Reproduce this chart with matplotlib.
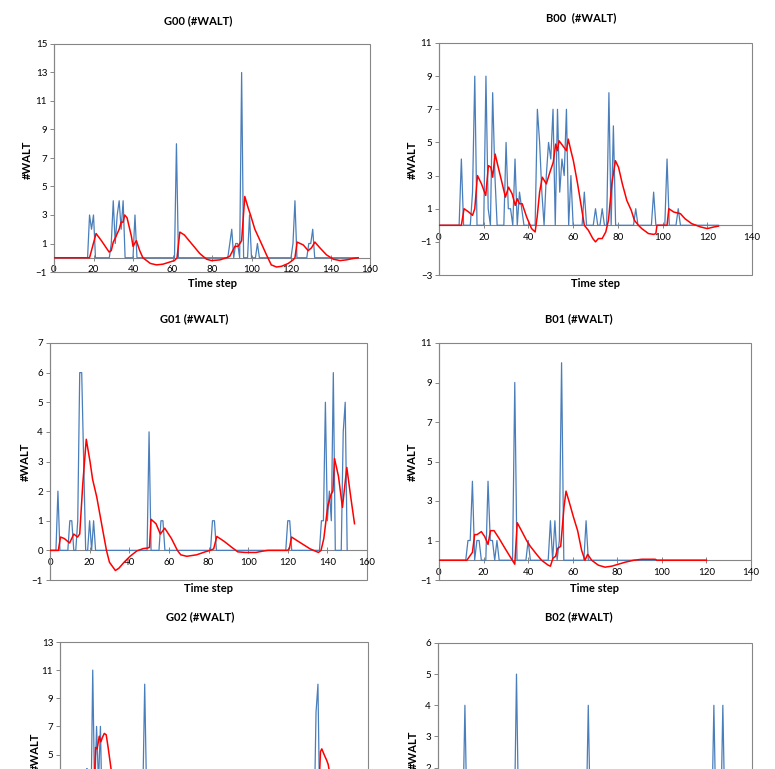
import matplotlib.pyplot as plt
import numpy as np
from matplotlib.patches import Rectangle

plt.rcParams['font.family'] = ['Lato', 'DejaVu Sans']

BLUE = '#4A7EBB'
RED = '#FF0000'
GRAY = '#868686'
W, H = 775, 769

# ---------- G00 ----------
g00_len = 155
g00_spike_t = [18, 19, 20, 29, 30, 31, 32, 33, 34, 35, 41, 62, 89, 90, 92, 93, 95, 99, 103, 121, 122, 129, 130, 131]
g00_spike_v = [3, 2, 3, 1, 4, 1, 3, 4, 2, 4, 3, 8, 1, 2, 1, 1, 13, 3, 1, 1, 4, 1, 1, 2]
g00_red_t = [0, 18, 21.3, 24, 27.9, 29, 30, 31.4, 33, 34, 35, 35.8, 37, 39.2, 40, 41.7, 43.4, 45, 48.8, 51.9,
             55.2, 58.6, 61, 62.3, 63.7, 66, 69.6, 73.8, 77.2, 79.7, 84, 87.3, 89, 91.6, 93.2, 95, 96.6, 98.3,
             99.5, 101.7, 105, 107.6, 110, 112.7, 115.2, 118.6, 121.1, 122, 123.1, 126.2, 128.7, 130.4, 132.1,
             134.6, 138, 141.4, 144.8, 148, 151.5, 154]
g00_red_v = [0, 0, 1.7, 1.2, 0.4, 0.5, 1.1, 1.5, 2.0, 2.5, 2.5, 3.0, 2.8, 1.5, 0.8, 1.2, 0.5, 0, -0.4, -0.5,
             -0.45, -0.3, -0.2, 0, 1.8, 1.6, 1.0, 0.3, -0.1, -0.2, -0.15, 0, 0.1, 0.8, 0.8, 1.2, 4.3, 3.5,
             3.0, 2.0, 1.0, 0.2, -0.5, -0.65, -0.6, -0.4, -0.15, 0, 1.1, 0.9, 0.5, 0.7, 1.1,
             0.7, 0.2, -0.1, -0.2, -0.15, -0.05, 0]

# ---------- B00 ----------
b00_len = 126
b00_spike_t = [10, 15, 16, 21, 22, 24, 25, 30, 31, 32, 34, 36, 37, 44, 45, 46, 48, 49, 50, 51, 53, 54, 55, 56,
               57, 59, 65, 70, 73, 76, 78, 88, 96, 102, 107]
b00_spike_v = [4, 2, 9, 9, 1, 8, 3, 5, 1, 1, 4, 2, 1, 7, 5, 2, 3, 5, 4, 7, 7, 2, 4, 3,
               7, 3, 2, 1, 1, 8, 6, 1, 2, 4, 1]
b00_red_t = [0, 10, 11.2, 13.3, 15, 16, 17.2, 19, 20.9, 22.1, 23.2, 24, 25.1, 26.5, 28.3, 29.7, 31.1, 32.7,
             34.1, 35, 36, 37.2, 39.2, 41.4, 43, 43.9, 45, 46.2, 48, 49.6, 51.1, 52.2, 52.9, 53.7, 55.9, 57,
             57.8, 59, 60.1, 62, 63.8, 65, 66.8, 68.8, 70, 71.3, 73, 74.6, 75.8, 77.3, 78.9, 80.3, 82, 84, 86,
             87.4, 89.2, 90.7, 93.7, 96, 97, 97.5, 102, 102.8, 105, 108, 110, 113, 117, 120, 123, 125]
b00_red_v = [0, 0, 1.0, 0.8, 0.6, 1.0, 3.0, 2.5, 1.8, 3.6, 3.5, 2.9, 4.3, 3.5, 2.5, 1.7, 2.3, 1.9,
             1.2, 1.6, 1.3, 1.3, 0.5, -0.2, -0.4, 0.5, 2.0, 2.9, 2.5, 3.2, 3.8, 4.9, 4.5, 5.1, 4.7, 4.5,
             5.2, 4.5, 3.9, 2.5, 1.0, 0, -0.3, -0.8, -1.0, -0.8, -0.8, -0.4, 0.3, 2.5, 3.9, 3.5, 2.5, 1.5, 0.9,
             0.3, 0, -0.2, -0.5, -0.55, -0.5, 0, 0, 1.0, 0.8, 0.7, 0.4, 0.1, -0.1, -0.2, -0.1, -0.05]

# ---------- G01 ----------
g01_len = 151
g01_spike_t = [4, 10, 11, 14, 15, 16, 17, 20, 22, 50, 56, 57, 82, 83, 120, 121, 137, 138, 139, 140, 141, 142,
               143, 148, 149]
g01_spike_v = [2, 1, 1, 1, 6, 6, 3, 1, 1, 4, 1, 1, 1, 1, 1, 1, 1, 1, 5, 1, 2, 1,
               6, 4, 5]
g01_red_t = [0, 4.2, 5.3, 7.2, 9.9, 12, 13.9, 15, 16.5, 18.3, 20.2, 21.5, 23.6, 26.3, 28.5, 30, 33, 34.8,
             37.4, 40.4, 43.8, 47, 49.3, 50.2, 51, 53.5, 55.7, 57.9, 61.3, 64.3, 66, 69, 74, 78.3, 80.8, 82.6,
             84.2, 88, 91.8, 94.8, 98.5, 104, 107, 110, 119.8, 120.8, 121.9, 125.4, 131.3, 135.5, 136.8,
             138.2, 140.2, 141.9, 142.8, 143.6, 145.6, 147.6, 149.8, 151.8, 153.7]
g01_red_v = [0, 0, 0.45, 0.4, 0.25, 0.55, 0.45, 0.55, 2.2, 3.75, 3.0, 2.4, 1.8, 0.8, 0, -0.4, -0.68, -0.6,
             -0.4, -0.2, -0.02, 0.06, 0.08, 0.1, 1.05, 0.9, 0.55, 0.75, 0.4, 0, -0.15, -0.2, -0.15, -0.05, 0, 0.05,
             0.47, 0.3, 0.1, -0.05, -0.07, -0.07, -0.03, 0, 0, 0.05, 0.45, 0.3, 0.05, -0.07, 0,
             0.4, 1.5, 1.9, 2.0, 3.1, 2.5, 1.45, 2.8, 1.8, 0.9]

# ---------- B01 ----------
b01_len = 121
b01_spike_t = [13, 14, 15, 17, 18, 22, 23, 24, 26, 34, 40, 50, 52, 54, 55, 66]
b01_spike_v = [1, 1, 4, 1, 1, 4, 1, 1, 1, 9, 1, 2, 2, 1, 10, 2]
b01_red_t = [0, 12.5, 15, 16, 17.1, 19, 20.5, 22, 23.1, 24.7, 27, 29.1, 31.8, 34, 35.1, 37, 39.3, 41, 43.8,
             46, 49, 50, 51.1, 52.3, 53.2, 54.6, 56.1, 57, 58.3, 60.3, 62.2, 64, 65.5, 66.7, 68.5, 71.5, 74.5,
             77.5, 80.5, 83.5, 87.3, 91, 97, 97.8, 120]
b01_red_v = [0, 0, 0.4, 1.3, 1.3, 1.45, 1.2, 0.8, 1.5, 1.5, 1.1, 0.7, 0.2, -0.2, 1.9, 1.5, 1.0, 0.7, 0.3,
             0, -0.25, -0.3, 0.1, 0.2, 0.6, 0.7, 2.7, 3.5, 3.0, 2.2, 1.5, 0.5, 0, 0.3, 0, -0.25, -0.35,
             -0.3, -0.2, -0.1, 0, 0.05, 0.05, 0, 0]

# ---------- G02 (lower part cut off) ----------
g02_len = 155
g02_spike_t = [14, 15, 17, 18, 19, 20, 21, 43, 44, 45, 133, 134]
g02_spike_v = [4, 1, 11, 2, 7, 3, 7, 2, 10, 2, 8, 10]
g02_red_t = [0, 16, 17.5, 18.5, 19.3, 20.4, 21.2, 22, 23, 24, 25, 26.5, 28, 32, 40, 133, 134.5, 135.3, 136,
             137.5, 138.5, 139.3, 141, 145, 150]
g02_red_v = [0, 0, 2.0, 5.5, 5.4, 6.3, 5.9, 6.2, 6.5, 6.4, 5.5, 4.0, 3.0, 1.5, 0.5, 0, 2.5, 5.2, 5.4,
             4.9, 4.6, 4.3, 3.0, 1.5, 0.5]

# ---------- B02 (lower part cut off) ----------
b02_len = 135
b02_spike_t = [12, 35, 67, 123, 127]
b02_spike_v = [4, 5, 4, 4, 4]


def spikes(n, t, v):
    y = np.zeros(n)
    y[t] = v
    return np.arange(n), y


def panel(box, xmax, ylim, ystep, title, title_xy, ylab_xy, xlab_y, blue, red=None, ytick_from=None):
    l, t, r, b = box
    fig = plt.gcf()
    ax = fig.add_axes([l / W, 1 - b / H, (r - l) / W, (b - t) / H])
    x, y = blue
    ax.plot(x, y, color=BLUE, lw=0.9, zorder=3)
    if red is not None:
        ax.plot(red[0], red[1], color=RED, lw=1.1, zorder=4)
    ax.set_xlim(0, xmax)
    ax.set_ylim(*ylim)
    ax.set_xticks(np.arange(0, xmax + 1, 20))
    start = ylim[0] if ytick_from is None else ytick_from
    ax.set_yticks(np.arange(start, ylim[1] + 0.1, ystep))
    ax.spines['bottom'].set_position(('data', 0))
    ax.spines['bottom'].set_color(GRAY)
    ax.spines['left'].set_color(GRAY)
    ax.spines['top'].set_visible(False)
    ax.spines['right'].set_visible(False)
    ax.add_patch(Rectangle((0, 0), 1, 1, transform=ax.transAxes, fill=False,
                           ec=GRAY, lw=0.8, clip_on=False, zorder=1))
    ax.tick_params(axis='x', direction='inout', length=5, width=0.7, color=GRAY,
                   labelsize=7, pad=3)
    ax.tick_params(axis='y', direction='out', length=3, width=0.7, color=GRAY,
                   labelsize=7, pad=2)
    fig.text(title_xy[0] / W, 1 - title_xy[1] / H, title, ha='center', va='center',
             fontsize=8, fontweight='bold')
    fig.text(ylab_xy[0] / W, 1 - ylab_xy[1] / H, '#WALT', rotation=90, ha='center',
             va='center', fontsize=8, fontweight='bold')
    if xlab_y is not None:
        fig.text((l + r) / 2 / W, 1 - xlab_y / H, 'Time step', ha='center', va='center',
                 fontsize=8, fontweight='bold')
    else:
        # the lower row is cut by the image edge: its x axis is not visible
        ax.tick_params(axis='x', labelbottom=False)
    return ax


fig = plt.figure(figsize=(7.75, 7.69), dpi=100)

panel((54, 44, 370, 272), 160, (-1, 15), 2, 'G00 (#WALT)', (198, 21), (27, 160), 283,
      spikes(g00_len, g00_spike_t, g00_spike_v), (g00_red_t, g00_red_v))
panel((439, 43, 752, 275), 140, (-3, 11), 2, 'B00  (#WALT)', (581, 18), (412, 160), 284,
      spikes(b00_len, b00_spike_t, b00_spike_v), (b00_red_t, b00_red_v))
panel((50, 343, 367, 580), 160, (-1, 7), 1, 'G01 (#WALT)', (194, 319), (25, 462), 588,
      spikes(g01_len, g01_spike_t, g01_spike_v), (g01_red_t, g01_red_v))
panel((439, 343, 751, 580), 140, (-1, 11), 2, 'B01 (#WALT)', (579, 319), (412, 462), 588,
      spikes(b01_len, b01_spike_t, b01_spike_v), (b01_red_t, b01_red_v))
panel((60, 642, 368, 867), 160, (-3, 13), 2, 'G02 (#WALT)', (200, 617), (35, 752), None,
      spikes(g02_len, g02_spike_t, g02_spike_v), (g02_red_t, g02_red_v), ytick_from=5)
panel((438, 643, 752, 861), 140, (-1, 6), 1, 'B02 (#WALT)', (579, 617), (413, 750), None,
      spikes(b02_len, b02_spike_t, b02_spike_v), ytick_from=2)

fig.savefig('out.png', dpi=100)
